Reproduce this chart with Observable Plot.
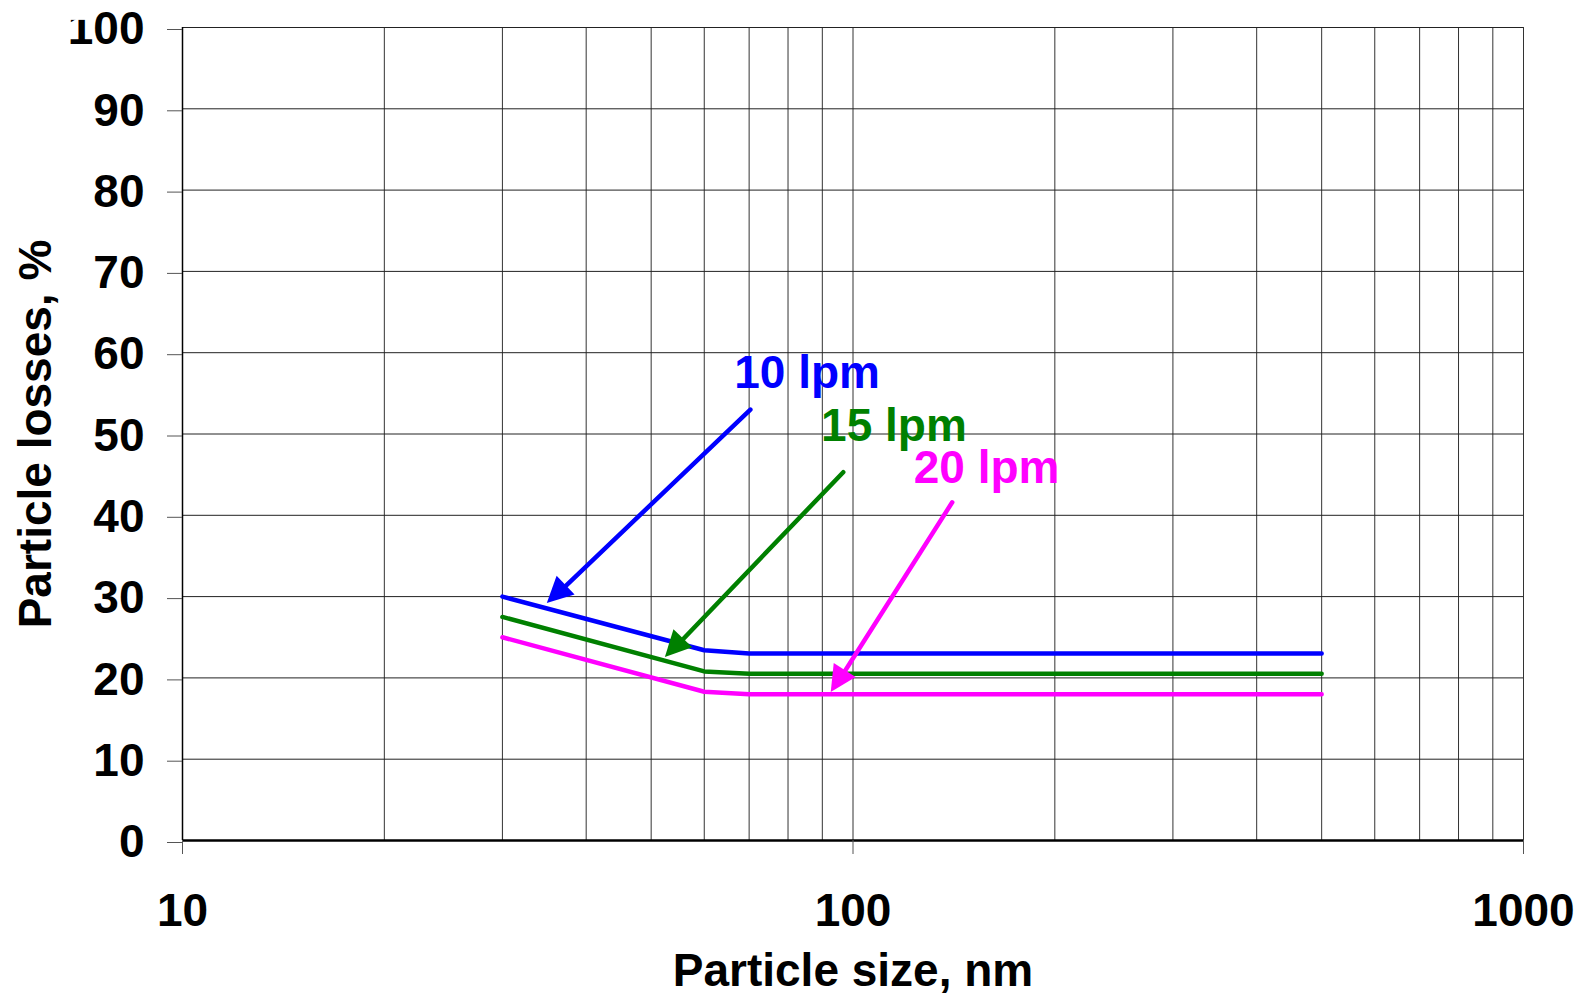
<!DOCTYPE html>
<html><head><meta charset="utf-8">
<script src="https://cdn.jsdelivr.net/npm/d3@7"></script>
<script src="https://cdn.jsdelivr.net/npm/@observablehq/plot@0.6"></script>
<style>html,body{margin:0;padding:0;background:#fff}#chart svg{display:block}</style>
</head><body><div id="chart"></div>
<script>
// ---- data ----
const sizes  = [30, 60, 70, 80, 90, 100, 200, 300, 400, 500];
const loss10 = [30.0, 23.4, 23.0, 23.0, 23.0, 23.0, 23.0, 23.0, 23.0, 23.0];
const loss15 = [27.5, 20.8, 20.5, 20.5, 20.5, 20.5, 20.5, 20.5, 20.5, 20.5];
const loss20 = [25.0, 18.3, 18.0, 18.0, 18.0, 18.0, 18.0, 18.0, 18.0, 18.0];
const seriesNames  = ["10 lpm", "15 lpm", "20 lpm"];
const seriesColors = ["#0000ff", "#008000", "#ff00ff"];
const xTicks = [10, 100, 1000];
const yTicks = [0, 10, 20, 30, 40, 50, 60, 70, 80, 90, 100];
const xGrid = [20, 30, 40, 50, 60, 70, 80, 90, 100, 200, 300, 400, 500, 600, 700, 800, 900, 1000];
const yGrid = [10, 20, 30, 40, 50, 60, 70, 80, 90, 100];
// annotation labels and arrows (data units)
const labelX = [85.4, 115.1, 158.2];
const labelY = [55.7, 49.2, 44.0];
const arrowFromX = [70.3, 96.7, 140.6];
const arrowFromY = [53.0, 45.3, 41.6];
const arrowToX = [35.0, 52.5, 92.8];
const arrowToY = [29.15, 22.5, 18.2];
const xTitle = "Particle size, nm";
const yTitle = "Particle losses, %";

const allSeries = [loss10, loss15, loss20];
const rows = allSeries.flatMap((vals, s) => sizes.map((x, i) => ({series: seriesNames[s], x, y: vals[i]})));
const labels = seriesNames.map((n, i) => ({name: n, x: labelX[i], y: labelY[i], color: seriesColors[i]}));
const arrows = seriesNames.map((n, i) => ({x1: arrowFromX[i], y1: arrowFromY[i], x2: arrowToX[i], y2: arrowToY[i], color: seriesColors[i]}));

const HEAD_LEN = 26, HEAD_HALF = 13;

const plot = Plot.plot({
  width: 1593, height: 998,
  marginLeft: 182, marginRight: 70, marginTop: 27, marginBottom: 158,
  style: {fontFamily: "'Liberation Sans', Arial, sans-serif", fontWeight: "bold", fontSize: "46px", background: "#fff", color: "#000"},
  x: {type: "log", domain: [10, 1000]},
  y: {domain: [0, 100]},
  color: {domain: seriesNames, range: seriesColors},
  marks: [
    Plot.ruleX(xGrid, {stroke: "#333", strokeWidth: 1}),
    Plot.ruleY(yGrid, {stroke: "#222", strokeWidth: 1}),
    Plot.ruleX([10], {stroke: "#000", strokeWidth: 1.5}),
    Plot.ruleY([0], {stroke: "#000", strokeWidth: 2.5}),
    Plot.axisX(xTicks, {tickSize: 14, tickPadding: 39, tickFormat: d => String(d), label: null, stroke: "#555"}),
    Plot.axisY(yTicks, {tickSize: 15, tickPadding: 23, label: null, stroke: "#555", dy: 2}),
    Plot.line(rows, {x: "x", y: "y", z: "series", stroke: "series", strokeWidth: 4.5}),
    Plot.arrow(arrows, {x1: "x1", y1: "y1", x2: "x2", y2: "y2", stroke: d => d.color, strokeWidth: 4.5, headLength: 0, insetEnd: HEAD_LEN - 4}),
    Plot.text(labels, {x: "x", y: "y", text: "name", fill: d => d.color, lineAnchor: "bottom", textAnchor: "middle", fontSize: 46, fontWeight: "bold"}),
    Plot.text([xTitle], {text: d => d, frameAnchor: "bottom", dy: 145, lineAnchor: "bottom", textAnchor: "middle", fontSize: 46, fontWeight: "bold", fill: "#000"}),
    Plot.text([yTitle], {text: d => d, frameAnchor: "left", dx: -132, rotate: -90, lineAnchor: "bottom", textAnchor: "middle", fontSize: 46, fontWeight: "bold", fill: "#000"})
  ]
});
document.getElementById("chart").appendChild(plot);

// white boxes behind the series labels
const svg = d3.select(plot);
svg.selectAll("text").each(function() {
  const t = this.textContent;
  if (!seriesNames.includes(t)) return;
  const b = this.getBBox();
  const r = document.createElementNS("http://www.w3.org/2000/svg", "rect");
  r.setAttribute("x", b.x - 11);
  r.setAttribute("y", b.y - 8);
  r.setAttribute("width", b.width + 25);
  r.setAttribute("height", b.height + 17);
  r.setAttribute("fill", "#fff");
  this.parentNode.insertBefore(r, this);
});

// filled arrow heads, positioned through Plot's scales
const sx = plot.scale("x"), sy = plot.scale("y");
const fx = sx.apply ? (v => sx.apply(v)) : d3.scaleLog().domain(sx.domain).range(sx.range);
const fy = sy.apply ? (v => sy.apply(v)) : d3.scaleLinear().domain(sy.domain).range(sy.range);
const heads = svg.append("g");
arrows.forEach(a => {
  const x1 = fx(a.x1), y1 = fy(a.y1), x2 = fx(a.x2), y2 = fy(a.y2);
  const dx = x2 - x1, dy = y2 - y1, L = Math.hypot(dx, dy);
  const ux = dx / L, uy = dy / L;
  const bx = x2 - ux * HEAD_LEN, by = y2 - uy * HEAD_LEN;
  const nx = -uy, ny = ux;
  heads.append("polygon")
    .attr("points", [[x2, y2], [bx + nx * HEAD_HALF, by + ny * HEAD_HALF], [bx - nx * HEAD_HALF, by - ny * HEAD_HALF]].map(p => p.join(",")).join(" "))
    .attr("fill", a.color);
});
</script>
</body></html>
